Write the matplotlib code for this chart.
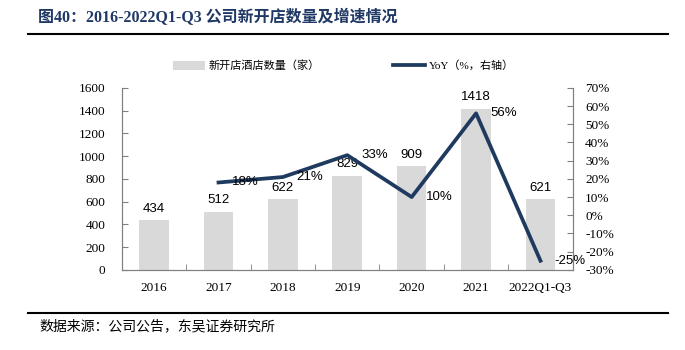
import matplotlib.pyplot as plt
from matplotlib.lines import Line2D
from matplotlib.patches import Patch

plt.rcParams["font.family"] = ["Liberation Serif", "Noto Sans CJK SC", "DejaVu Sans"]

# -------------------------------------------------------------------
# Data
# -------------------------------------------------------------------
years = ["2016", "2017", "2018", "2019", "2020", "2021", "2022Q1-Q3"]
new_hotels = [434, 512, 622, 829, 909, 1418, 621]
yoy_years = [1, 2, 3, 4, 5, 6]
yoy = [0.18, 0.21, 0.33, 0.10, 0.56, -0.25]
yoy_labels = ["18%", "21%", "33%", "10%", "56%", "-25%"]
left_ticks = [0, 200, 400, 600, 800, 1000, 1200, 1400, 1600]
right_ticks = [-0.3, -0.2, -0.1, 0.0, 0.1, 0.2, 0.3, 0.4, 0.5, 0.6, 0.7]

bar_color = "#d9d9d9"
line_color = "#1f3a5f"
spine_color = "#808080"

fig = plt.figure(figsize=(6.85, 3.5), dpi=100)
ax = fig.add_axes([0.178, 0.229, 0.658, 0.52])
ax2 = ax.twinx()

x = list(range(len(years)))
ax.bar(x, new_hotels, width=0.46, color=bar_color, zorder=1)
for xi, v in zip(x, new_hotels):
    ax.annotate(str(v), (xi, v), xytext=(0, 4), textcoords="offset points",
                ha="center", va="bottom", fontsize=9.5,
                family=["Liberation Sans"])

ax2.plot(yoy_years, yoy, color=line_color, lw=2.7, zorder=3)
for xi, v, lab in zip(yoy_years, yoy, yoy_labels):
    ax2.annotate(lab, (xi, v), xytext=(10, 0), textcoords="offset points",
                 ha="left", va="center", fontsize=9.5,
                 family=["Liberation Sans"])

ax.set_xlim(-0.5, len(years) - 0.5)
ax.set_ylim(0, 1600)
ax.set_yticks(left_ticks)
ax2.set_ylim(-0.3, 0.7)
ax2.set_yticks(right_ticks)
ax2.set_yticklabels([f"{round(t * 100)}%" for t in right_ticks])

ax.set_xticks(x)
ax.set_xticklabels(years)
ax.set_xticks([i + 0.5 for i in x[:-1]], minor=True)
ax.tick_params(axis="x", which="major", length=0, pad=9, labelsize=9.5)
ax.tick_params(axis="x", which="minor", direction="in", length=4,
               color=spine_color)
ax.tick_params(axis="y", direction="in", length=4, pad=12, labelsize=9.5,
               color=spine_color)
ax2.tick_params(axis="y", direction="in", length=4, pad=9, labelsize=9.5,
                color=spine_color)

for a in (ax, ax2):
    a.spines["top"].set_visible(False)
    for s in ("left", "right", "bottom"):
        a.spines[s].set_color(spine_color)
        a.spines[s].set_linewidth(0.8)

# legend
handles = [Patch(facecolor=bar_color, edgecolor="none"),
           Line2D([0], [0], color=line_color, lw=2.7)]
labels = ["新开店酒店数量（家）", "YoY（%，右轴）"]
fig.legend(handles, labels, loc="center left", bbox_to_anchor=(0.238, 0.812),
           ncol=2, frameon=False, handlelength=2.9,
           handleheight=0.9, handletextpad=0.3, columnspacing=6.6,
           prop={"family": ["Liberation Serif", "Noto Sans CJK SC"], "size": 8})

# title, rules and source
fig.text(0.055, 0.951, "图40：2016-2022Q1-Q3 公司新开店数量及增速情况",
         fontsize=11.5, fontweight="bold", color="#1f3864",
         ha="left", va="center")
fig.add_artist(Line2D([0.041, 0.975], [0.904, 0.904], color="black", lw=1.5))
fig.add_artist(Line2D([0.041, 0.975], [0.106, 0.106], color="black", lw=1.5))
fig.text(0.058, 0.068, "数据来源：公司公告，东吴证券研究所", fontsize=10,
         ha="left", va="center", family=["Noto Sans CJK SC"])

fig.savefig("out.png", dpi=100)
